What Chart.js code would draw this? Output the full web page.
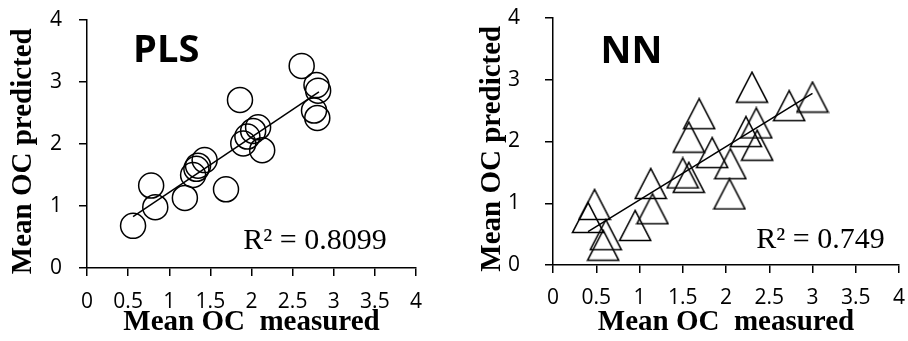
<!DOCTYPE html>
<html>
<head>
<meta charset="utf-8">
<script src="https://cdn.jsdelivr.net/npm/chart.js@4"></script>
<style>
  body { margin: 0; background: #fff; }
  #wrap { position: relative; width: 908px; height: 341px; }
  canvas { position: absolute; top: 0; }
</style>
</head>
<body>
<div id="wrap">
  <canvas id="plsChart" width="454" height="341" style="left:0"></canvas>
  <canvas id="nnChart" width="454" height="341" style="left:454px"></canvas>
</div>
<script>
// données
const axisTicks = [0, 0.5, 1, 1.5, 2, 2.5, 3, 3.5, 4];

const plsMeasured = [0.56, 0.78, 0.83, 1.19, 1.29, 1.35, 1.43, 1.69, 1.86, 1.90, 1.95, 2.02, 2.08, 2.13, 2.61, 2.79, 2.81, 2.76, 2.80, 1.33];
const plsPredicted = [0.68, 1.33, 0.98, 1.13, 1.50, 1.65, 1.74, 1.27, 2.71, 2.01, 2.12, 2.21, 2.27, 1.90, 3.26, 2.95, 2.86, 2.54, 2.42, 1.60];
const plsTrendX = [0.56, 2.82];
const plsTrendY = [0.83, 2.84];

const nnMeasured = [0.48, 0.405, 0.61, 0.58, 0.95, 1.13, 1.15, 1.50, 1.57, 1.57, 1.69, 1.84, 2.05, 2.04, 2.23, 2.30, 2.35, 2.36, 2.73, 3.00];
const nnPredicted = [0.98, 0.77, 0.49, 0.32, 0.64, 1.32, 0.91, 1.49, 1.42, 2.07, 2.45, 1.82, 1.64, 1.15, 2.16, 2.88, 2.30, 1.94, 2.58, 2.72];
const nnTrendX = [0.405, 3.0];
const nnTrendY = [0.54, 2.78];

// marqueur triangle (centré sur la boîte comme dans Excel)
function makeTriangle() {
    const c = document.createElement('canvas');
    c.width = 34; c.height = 33;
    const g = c.getContext('2d');
    g.strokeStyle = '#000';
    g.lineWidth = 1.6;
    g.beginPath();
    g.moveTo(17, 1.5);
    g.lineTo(1.5, 31.5);
    g.lineTo(32.5, 31.5);
    g.closePath();
    g.stroke();
    return c;
}

function toPoints(xs, ys) {
    return xs.map((x, i) => ({ x: x, y: ys[i] }));
}

// texte "PLS" / "NN" et R²
const labelsPlugin = {
    id: 'labels',
    afterDatasetsDraw(chart, args, opts) {
        const ctx = chart.ctx;
        const sx = chart.scales.x, sy = chart.scales.y;
        ctx.save();
        ctx.fillStyle = '#000';
        ctx.textBaseline = 'alphabetic';
        ctx.textAlign = 'left';
        ctx.font = 'bold 38px "Open Sans"';
        ctx.fillText(opts.name, sx.getPixelForValue(opts.nameAt[0]), sy.getPixelForValue(opts.nameAt[1]));
        ctx.font = '30px "Liberation Serif"';
        ctx.fillText(opts.r2, sx.getPixelForValue(opts.r2At[0]), sy.getPixelForValue(opts.r2At[1]));
        ctx.restore();
    }
};

function buildChart(id, points, trend, marker, geo, text) {
    const ctx = document.getElementById(id).getContext('2d');
    return new Chart(ctx, {
        type: 'scatter',
        data: {
            datasets: [{
                data: points,
                pointStyle: marker.style,
                pointRadius: marker.radius,
                borderColor: '#000',
                borderWidth: 1.5,
                backgroundColor: 'rgba(0,0,0,0)'
            }, {
                type: 'line',
                data: trend,
                borderColor: '#000',
                borderWidth: 1.5,
                pointRadius: 0,
                fill: false
            }]
        },
        options: {
            responsive: false,
            animation: false,
            layout: { autoPadding: false, padding: { top: geo.top, right: geo.right, left: 0, bottom: 0 } },
            plugins: {
                legend: { display: false },
                tooltip: { enabled: false },
                labels: text
            },
            scales: {
                x: {
                    type: 'linear',
                    min: 0, max: 4,
                    afterFit: s => { s.height = geo.xHeight; s.paddingLeft = 0; s.paddingRight = 0; },
                    afterBuildTicks: s => { s.ticks = axisTicks.map(v => ({ value: v })); },
                    ticks: {
                        color: '#000', padding: geo.xPad,
                        font: { family: 'Open Sans', size: 21 },
                        callback: v => String(v)
                    },
                    grid: { drawOnChartArea: false, tickLength: 8, color: '#000', lineWidth: 1.5 },
                    border: { color: '#000', width: 1.5 },
                    title: {
                        display: true,
                        text: 'Mean OC  measured',
                        color: '#000',
                        padding: { top: 0, bottom: 1 },
                        font: { family: 'Liberation Serif', size: 29, weight: 'bold' }
                    }
                },
                y: {
                    type: 'linear',
                    min: 0, max: 4,
                    afterFit: s => { s.width = geo.yWidth; s.paddingTop = 0; s.paddingBottom = 0; },
                    ticks: {
                        stepSize: 1, color: '#000', padding: geo.yPad,
                        font: { family: 'Open Sans', size: 21 },
                        callback: v => String(v)
                    },
                    grid: { drawOnChartArea: false, tickLength: 8, color: '#000', lineWidth: 1.5 },
                    border: { color: '#000', width: 1.5 },
                    title: {
                        display: true,
                        text: 'Mean OC predicted  ',
                        color: '#000',
                        padding: { top: geo.yTitlePad, bottom: 0 },
                        font: { family: 'Liberation Serif', size: 29, weight: 'bold' }
                    }
                }
            }
        },
        plugins: [labelsPlugin]
    });
}

Promise.all([
    document.fonts.load('bold 38px "Open Sans"'),
    document.fonts.load('21px "Open Sans"'),
    document.fonts.load('bold 29px "Liberation Serif"'),
    document.fonts.load('30px "Liberation Serif"')
]).then(() => {
    buildChart('plsChart',
        toPoints(plsMeasured, plsPredicted),
        toPoints(plsTrendX, plsTrendY),
        { style: 'circle', radius: 12.5 },
        { top: 20, right: 38, xHeight: 73, yWidth: 87, xPad: 13, yPad: 17, yTitlePad: 6 },
        { name: 'PLS', nameAt: [0.56, 3.32], r2: 'R² = 0.8099', r2At: [1.90, 0.30] });

    buildChart('nnChart',
        toPoints(nnMeasured, nnPredicted),
        toPoints(nnTrendX, nnTrendY),
        { style: makeTriangle(), radius: 16 },
        { top: 18, right: 9, xHeight: 76, yWidth: 99, xPad: 12, yPad: 25, yTitlePad: 21 },
        { name: 'NN', nameAt: [0.55, 3.27], r2: 'R² = 0.749', r2At: [2.35, 0.28] });
});
</script>
</body>
</html>
